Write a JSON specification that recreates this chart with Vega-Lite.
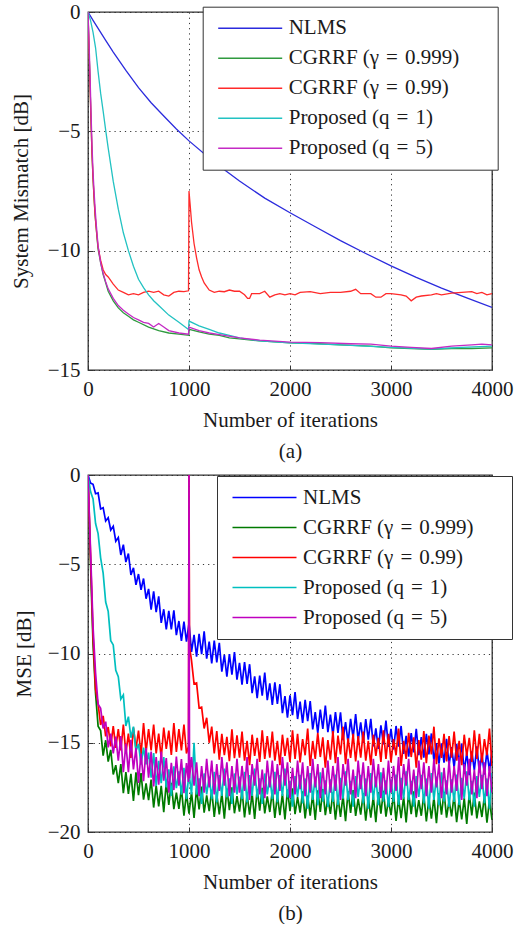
{
"$schema":"https://vega.github.io/schema/vega-lite/v6.json",
"background":"white",
"padding":{"left":9,"top":0,"right":0,"bottom":0},
"spacing":1,
"config":{
"font":"Liberation Serif",
"view":{"stroke":"#333","strokeWidth":1.3},
"axis":{"labelFont":"Liberation Serif","labelFontSize":21,"labelColor":"#1a1a1a","titleFont":"Liberation Serif","titleFontSize":21,"titleFontWeight":"normal","titleColor":"#1a1a1a","domain":false,"tickColor":"#333","tickSize":-5,"labelPadding":13,"grid":true,"gridColor":"#222","gridDash":[1.2,4],"gridOpacity":0.9,"labelFlush":false,"labelOverlap":false,"format":"d"},
"axisX":{"titlePadding":10,"titleLineHeight":31},
"legend":{"orient":"none","symbolType":"M-4,0H4","symbolSize":256,"symbolOffset":26,"symbolStrokeWidth":1.5,"labelFont":"Liberation Serif","labelFontSize":21,"labelColor":"#1a1a1a","labelLimit":500,"strokeColor":"#333","fillColor":"white","padding":11,"rowPadding":8,"labelOffset":28,"titleOrient":"right","titlePadding":28,"titleFontSize":21}
},
"datasets":{
"top":[
{"s":"N","x":0,"y":0},{"s":"N","x":50,"y":-0.35},{"s":"N","x":100,"y":-0.69},{"s":"N","x":175,"y":-1.19},{"s":"N","x":250,"y":-1.68},{"s":"N","x":375,"y":-2.45},{"s":"N","x":500,"y":-3.17},{"s":"N","x":625,"y":-3.8},{"s":"N","x":750,"y":-4.36},{"s":"N","x":875,"y":-4.9},{"s":"N","x":1000,"y":-5.4},{"s":"N","x":1250,"y":-6.3},{"s":"N","x":1500,"y":-7.08},{"s":"N","x":1750,"y":-7.8},{"s":"N","x":2000,"y":-8.41},{"s":"N","x":2250,"y":-9.0},{"s":"N","x":2500,"y":-9.58},{"s":"N","x":2750,"y":-10.12},{"s":"N","x":3000,"y":-10.64},{"s":"N","x":3250,"y":-11.12},{"s":"N","x":3500,"y":-11.57},{"s":"N","x":3750,"y":-11.98},{"s":"N","x":4000,"y":-12.38},
{"s":"G","x":0,"y":0},{"s":"G","x":10,"y":-1.5},{"s":"G","x":20,"y":-3},{"s":"G","x":30,"y":-4.6},{"s":"G","x":40,"y":-6},{"s":"G","x":50,"y":-7},{"s":"G","x":60,"y":-7.8},{"s":"G","x":70,"y":-8.5},{"s":"G","x":80,"y":-9.0},{"s":"G","x":90,"y":-9.5},{"s":"G","x":100,"y":-9.95},{"s":"G","x":125,"y":-10.5},{"s":"G","x":150,"y":-11.0},{"s":"G","x":175,"y":-11.35},{"s":"G","x":200,"y":-11.7},{"s":"G","x":250,"y":-12.1},{"s":"G","x":300,"y":-12.4},{"s":"G","x":350,"y":-12.6},{"s":"G","x":400,"y":-12.75},{"s":"G","x":450,"y":-12.9},{"s":"G","x":500,"y":-13.0},{"s":"G","x":600,"y":-13.2},{"s":"G","x":700,"y":-13.35},{"s":"G","x":800,"y":-13.45},{"s":"G","x":900,"y":-13.5},{"s":"G","x":998,"y":-13.55},{"s":"G","x":1002,"y":-13.3},{"s":"G","x":1100,"y":-13.4},{"s":"G","x":1200,"y":-13.5},{"s":"G","x":1300,"y":-13.55},{"s":"G","x":1400,"y":-13.65},{"s":"G","x":1500,"y":-13.7},{"s":"G","x":1700,"y":-13.78},{"s":"G","x":2000,"y":-13.86},{"s":"G","x":2200,"y":-13.88},{"s":"G","x":2500,"y":-13.95},{"s":"G","x":2800,"y":-14.0},{"s":"G","x":3000,"y":-14.07},{"s":"G","x":3200,"y":-14.1},{"s":"G","x":3400,"y":-14.13},{"s":"G","x":3600,"y":-14.1},{"s":"G","x":3800,"y":-14.1},{"s":"G","x":4000,"y":-14.07},
{"s":"R","x":0,"y":0},{"s":"R","x":10,"y":-1.5},{"s":"R","x":20,"y":-3},{"s":"R","x":30,"y":-4.6},{"s":"R","x":40,"y":-6},{"s":"R","x":50,"y":-7},{"s":"R","x":60,"y":-7.8},{"s":"R","x":70,"y":-8.5},{"s":"R","x":80,"y":-9.0},{"s":"R","x":90,"y":-9.45},{"s":"R","x":100,"y":-9.85},{"s":"R","x":125,"y":-10.4},{"s":"R","x":150,"y":-10.8},{"s":"R","x":175,"y":-11.0},{"s":"R","x":200,"y":-11.1},{"s":"R","x":250,"y":-11.4},{"s":"R","x":300,"y":-11.65},{"s":"R","x":350,"y":-11.75},{"s":"R","x":400,"y":-11.85},{"s":"R","x":450,"y":-11.8},{"s":"R","x":500,"y":-11.85},{"s":"R","x":550,"y":-11.75},{"s":"R","x":600,"y":-11.7},{"s":"R","x":650,"y":-11.75},{"s":"R","x":700,"y":-11.7},{"s":"R","x":750,"y":-11.85},{"s":"R","x":800,"y":-11.9},{"s":"R","x":850,"y":-11.75},{"s":"R","x":900,"y":-11.7},{"s":"R","x":950,"y":-11.72},{"s":"R","x":995,"y":-11.68},{"s":"R","x":1000,"y":-7.5},{"s":"R","x":1010,"y":-8.0},{"s":"R","x":1025,"y":-8.8},{"s":"R","x":1050,"y":-9.7},{"s":"R","x":1075,"y":-10.3},{"s":"R","x":1100,"y":-10.8},{"s":"R","x":1125,"y":-11.1},{"s":"R","x":1150,"y":-11.35},{"s":"R","x":1200,"y":-11.65},{"s":"R","x":1250,"y":-11.75},{"s":"R","x":1300,"y":-11.7},{"s":"R","x":1350,"y":-11.72},{"s":"R","x":1400,"y":-11.65},{"s":"R","x":1450,"y":-11.7},{"s":"R","x":1500,"y":-11.7},{"s":"R","x":1550,"y":-11.85},{"s":"R","x":1580,"y":-12.0},{"s":"R","x":1600,"y":-12.0},{"s":"R","x":1620,"y":-11.8},{"s":"R","x":1700,"y":-11.8},{"s":"R","x":1750,"y":-11.7},{"s":"R","x":1800,"y":-11.95},{"s":"R","x":1850,"y":-11.85},{"s":"R","x":1900,"y":-11.8},{"s":"R","x":1950,"y":-11.85},{"s":"R","x":2000,"y":-11.8},{"s":"R","x":2050,"y":-11.85},{"s":"R","x":2100,"y":-11.75},{"s":"R","x":2200,"y":-11.72},{"s":"R","x":2300,"y":-11.8},{"s":"R","x":2400,"y":-11.75},{"s":"R","x":2500,"y":-11.75},{"s":"R","x":2600,"y":-11.7},{"s":"R","x":2650,"y":-11.62},{"s":"R","x":2700,"y":-11.8},{"s":"R","x":2800,"y":-11.8},{"s":"R","x":2850,"y":-11.95},{"s":"R","x":2900,"y":-11.95},{"s":"R","x":2950,"y":-11.8},{"s":"R","x":3000,"y":-11.8},{"s":"R","x":3100,"y":-11.85},{"s":"R","x":3150,"y":-11.9},{"s":"R","x":3200,"y":-12.1},{"s":"R","x":3250,"y":-11.95},{"s":"R","x":3300,"y":-11.9},{"s":"R","x":3400,"y":-11.85},{"s":"R","x":3450,"y":-11.8},{"s":"R","x":3500,"y":-11.85},{"s":"R","x":3600,"y":-11.78},{"s":"R","x":3700,"y":-11.75},{"s":"R","x":3800,"y":-11.72},{"s":"R","x":3850,"y":-11.8},{"s":"R","x":3900,"y":-11.75},{"s":"R","x":3950,"y":-11.85},{"s":"R","x":4000,"y":-11.8},
{"s":"C","x":0,"y":0},{"s":"C","x":25,"y":-0.35},{"s":"C","x":50,"y":-0.85},{"s":"C","x":75,"y":-1.5},{"s":"C","x":100,"y":-2.5},{"s":"C","x":125,"y":-3.4},{"s":"C","x":150,"y":-4.15},{"s":"C","x":175,"y":-4.95},{"s":"C","x":200,"y":-5.7},{"s":"C","x":250,"y":-7.1},{"s":"C","x":300,"y":-8.26},{"s":"C","x":350,"y":-9.25},{"s":"C","x":400,"y":-10.0},{"s":"C","x":450,"y":-10.65},{"s":"C","x":500,"y":-11.2},{"s":"C","x":550,"y":-11.55},{"s":"C","x":600,"y":-11.85},{"s":"C","x":650,"y":-12.1},{"s":"C","x":700,"y":-12.3},{"s":"C","x":800,"y":-12.7},{"s":"C","x":900,"y":-13.0},{"s":"C","x":995,"y":-13.3},{"s":"C","x":1000,"y":-12.95},{"s":"C","x":1100,"y":-13.15},{"s":"C","x":1200,"y":-13.3},{"s":"C","x":1300,"y":-13.45},{"s":"C","x":1400,"y":-13.55},{"s":"C","x":1500,"y":-13.65},{"s":"C","x":1700,"y":-13.78},{"s":"C","x":2000,"y":-13.86},{"s":"C","x":2500,"y":-13.95},{"s":"C","x":3000,"y":-14.05},{"s":"C","x":3400,"y":-14.12},{"s":"C","x":3700,"y":-14.05},{"s":"C","x":4000,"y":-14.0},
{"s":"M","x":0,"y":0},{"s":"M","x":10,"y":-1.2},{"s":"M","x":20,"y":-2.6},{"s":"M","x":30,"y":-4.2},{"s":"M","x":40,"y":-5.6},{"s":"M","x":50,"y":-6.7},{"s":"M","x":60,"y":-7.5},{"s":"M","x":70,"y":-8.2},{"s":"M","x":80,"y":-8.8},{"s":"M","x":90,"y":-9.3},{"s":"M","x":100,"y":-9.8},{"s":"M","x":125,"y":-10.5},{"s":"M","x":150,"y":-10.95},{"s":"M","x":175,"y":-11.3},{"s":"M","x":200,"y":-11.6},{"s":"M","x":250,"y":-12.0},{"s":"M","x":300,"y":-12.3},{"s":"M","x":350,"y":-12.5},{"s":"M","x":400,"y":-12.65},{"s":"M","x":450,"y":-12.8},{"s":"M","x":500,"y":-12.9},{"s":"M","x":550,"y":-13.0},{"s":"M","x":600,"y":-13.05},{"s":"M","x":650,"y":-13.2},{"s":"M","x":700,"y":-13.05},{"s":"M","x":750,"y":-13.2},{"s":"M","x":800,"y":-13.35},{"s":"M","x":900,"y":-13.45},{"s":"M","x":995,"y":-13.5},{"s":"M","x":1000,"y":-13.2},{"s":"M","x":1100,"y":-13.35},{"s":"M","x":1200,"y":-13.45},{"s":"M","x":1300,"y":-13.52},{"s":"M","x":1500,"y":-13.65},{"s":"M","x":1700,"y":-13.75},{"s":"M","x":2000,"y":-13.83},{"s":"M","x":2300,"y":-13.85},{"s":"M","x":2600,"y":-13.9},{"s":"M","x":2800,"y":-13.92},{"s":"M","x":3000,"y":-14.0},{"s":"M","x":3200,"y":-14.05},{"s":"M","x":3400,"y":-14.1},{"s":"M","x":3600,"y":-14.0},{"s":"M","x":3800,"y":-13.95},{"s":"M","x":3900,"y":-13.92},{"s":"M","x":4000,"y":-13.95}
],
"bot":[
{"s":"N","x":0,"y":0},{"s":"N","x":25,"y":-0.45},{"s":"N","x":50,"y":-0.52},{"s":"N","x":75,"y":-1.05},{"s":"N","x":100,"y":-1.0},{"s":"N","x":125,"y":-1.9},{"s":"N","x":150,"y":-1.83},{"s":"N","x":175,"y":-2.58},{"s":"N","x":200,"y":-2.39},{"s":"N","x":225,"y":-3.08},{"s":"N","x":250,"y":-2.87},{"s":"N","x":275,"y":-3.71},{"s":"N","x":300,"y":-3.5},{"s":"N","x":325,"y":-4.48},{"s":"N","x":350,"y":-3.9},{"s":"N","x":375,"y":-4.88},{"s":"N","x":400,"y":-4.4},{"s":"N","x":425,"y":-5.6},{"s":"N","x":450,"y":-5.2},{"s":"N","x":475,"y":-6.15},{"s":"N","x":500,"y":-5.55},{"s":"N","x":525,"y":-6.43},{"s":"N","x":550,"y":-5.8},{"s":"N","x":575,"y":-6.93},{"s":"N","x":600,"y":-6.38},{"s":"N","x":625,"y":-7.54},{"s":"N","x":650,"y":-6.52},{"s":"N","x":675,"y":-7.68},{"s":"N","x":700,"y":-6.8},{"s":"N","x":725,"y":-8.28},{"s":"N","x":750,"y":-7.52},{"s":"N","x":775,"y":-8.65},{"s":"N","x":800,"y":-7.61},{"s":"N","x":825,"y":-8.65},{"s":"N","x":850,"y":-7.58},{"s":"N","x":875,"y":-8.97},{"s":"N","x":900,"y":-8.18},{"s":"N","x":925,"y":-9.29},{"s":"N","x":950,"y":-8.22},{"s":"N","x":975,"y":-9.33},{"s":"N","x":1000,"y":-8.3},{"s":"N","x":1025,"y":-9.91},{"s":"N","x":1050,"y":-8.96},{"s":"N","x":1075,"y":-10.17},{"s":"N","x":1100,"y":-8.9},{"s":"N","x":1125,"y":-10.03},{"s":"N","x":1150,"y":-8.76},{"s":"N","x":1175,"y":-10.29},{"s":"N","x":1200,"y":-9.34},{"s":"N","x":1225,"y":-10.55},{"s":"N","x":1250,"y":-9.28},{"s":"N","x":1275,"y":-10.5},{"s":"N","x":1300,"y":-9.4},{"s":"N","x":1325,"y":-11.02},{"s":"N","x":1350,"y":-10.08},{"s":"N","x":1375,"y":-11.3},{"s":"N","x":1400,"y":-10.04},{"s":"N","x":1425,"y":-11.18},{"s":"N","x":1450,"y":-9.92},{"s":"N","x":1475,"y":-11.46},{"s":"N","x":1500,"y":-10.52},{"s":"N","x":1525,"y":-11.74},{"s":"N","x":1550,"y":-10.48},{"s":"N","x":1575,"y":-11.7},{"s":"N","x":1600,"y":-10.6},{"s":"N","x":1625,"y":-12.22},{"s":"N","x":1650,"y":-11.28},{"s":"N","x":1675,"y":-12.5},{"s":"N","x":1700,"y":-11.24},{"s":"N","x":1725,"y":-12.36},{"s":"N","x":1750,"y":-11.07},{"s":"N","x":1775,"y":-12.61},{"s":"N","x":1800,"y":-11.67},{"s":"N","x":1825,"y":-12.88},{"s":"N","x":1850,"y":-11.61},{"s":"N","x":1875,"y":-12.83},{"s":"N","x":1900,"y":-11.72},{"s":"N","x":1925,"y":-13.34},{"s":"N","x":1950,"y":-12.39},{"s":"N","x":1975,"y":-13.6},{"s":"N","x":2000,"y":-12.34},{"s":"N","x":2025,"y":-13.45},{"s":"N","x":2050,"y":-12.16},{"s":"N","x":2075,"y":-13.67},{"s":"N","x":2100,"y":-12.7},{"s":"N","x":2125,"y":-13.89},{"s":"N","x":2150,"y":-12.6},{"s":"N","x":2175,"y":-13.79},{"s":"N","x":2200,"y":-12.66},{"s":"N","x":2225,"y":-14.25},{"s":"N","x":2250,"y":-13.28},{"s":"N","x":2275,"y":-14.45},{"s":"N","x":2300,"y":-13.14},{"s":"N","x":2325,"y":-14.23},{"s":"N","x":2350,"y":-12.92},{"s":"N","x":2375,"y":-14.41},{"s":"N","x":2400,"y":-13.42},{"s":"N","x":2425,"y":-14.59},{"s":"N","x":2450,"y":-13.28},{"s":"N","x":2475,"y":-14.45},{"s":"N","x":2500,"y":-13.3},{"s":"N","x":2525,"y":-14.85},{"s":"N","x":2550,"y":-13.84},{"s":"N","x":2575,"y":-14.99},{"s":"N","x":2600,"y":-13.66},{"s":"N","x":2625,"y":-14.73},{"s":"N","x":2650,"y":-13.4},{"s":"N","x":2675,"y":-14.87},{"s":"N","x":2700,"y":-13.86},{"s":"N","x":2725,"y":-15.01},{"s":"N","x":2750,"y":-13.68},{"s":"N","x":2775,"y":-14.83},{"s":"N","x":2800,"y":-13.66},{"s":"N","x":2825,"y":-15.21},{"s":"N","x":2850,"y":-14.2},{"s":"N","x":2875,"y":-15.35},{"s":"N","x":2900,"y":-14.02},{"s":"N","x":2925,"y":-15.09},{"s":"N","x":2950,"y":-13.76},{"s":"N","x":2975,"y":-15.23},{"s":"N","x":3000,"y":-14.22},{"s":"N","x":3025,"y":-15.38},{"s":"N","x":3050,"y":-14.06},{"s":"N","x":3075,"y":-15.22},{"s":"N","x":3100,"y":-14.06},{"s":"N","x":3125,"y":-15.62},{"s":"N","x":3150,"y":-14.62},{"s":"N","x":3175,"y":-15.78},{"s":"N","x":3200,"y":-14.46},{"s":"N","x":3225,"y":-15.54},{"s":"N","x":3250,"y":-14.22},{"s":"N","x":3275,"y":-15.69},{"s":"N","x":3300,"y":-14.68},{"s":"N","x":3325,"y":-15.83},{"s":"N","x":3350,"y":-14.5},{"s":"N","x":3375,"y":-15.65},{"s":"N","x":3400,"y":-14.48},{"s":"N","x":3425,"y":-16.03},{"s":"N","x":3450,"y":-15.02},{"s":"N","x":3475,"y":-16.17},{"s":"N","x":3500,"y":-15.04},{"s":"N","x":3525,"y":-16.11},{"s":"N","x":3550,"y":-14.78},{"s":"N","x":3575,"y":-16.25},{"s":"N","x":3600,"y":-15.24},{"s":"N","x":3625,"y":-16.39},{"s":"N","x":3650,"y":-15.06},{"s":"N","x":3675,"y":-16.21},{"s":"N","x":3700,"y":-15.04},{"s":"N","x":3725,"y":-16.59},{"s":"N","x":3750,"y":-15.58},{"s":"N","x":3775,"y":-16.82},{"s":"N","x":3800,"y":-15.48},{"s":"N","x":3825,"y":-16.54},{"s":"N","x":3850,"y":-15.2},{"s":"N","x":3875,"y":-16.66},{"s":"N","x":3900,"y":-15.64},{"s":"N","x":3925,"y":-16.78},{"s":"N","x":3950,"y":-15.44},{"s":"N","x":3975,"y":-16.58},{"s":"N","x":4000,"y":-15.4},
{"s":"G","x":0,"y":0},{"s":"G","x":25,"y":-5.0},{"s":"G","x":50,"y":-9.5},{"s":"G","x":75,"y":-12.25},{"s":"G","x":100,"y":-14.07},{"s":"G","x":125,"y":-14.32},{"s":"G","x":150,"y":-15.72},{"s":"G","x":175,"y":-14.86},{"s":"G","x":200,"y":-16.06},{"s":"G","x":225,"y":-15.4},{"s":"G","x":250,"y":-16.78},{"s":"G","x":275,"y":-16.26},{"s":"G","x":300,"y":-17.26},{"s":"G","x":325,"y":-16.19},{"s":"G","x":350,"y":-17.83},{"s":"G","x":375,"y":-16.65},{"s":"G","x":400,"y":-17.87},{"s":"G","x":425,"y":-16.74},{"s":"G","x":450,"y":-18.26},{"s":"G","x":475,"y":-16.66},{"s":"G","x":500,"y":-17.93},{"s":"G","x":525,"y":-16.7},{"s":"G","x":550,"y":-18.19},{"s":"G","x":575,"y":-17.28},{"s":"G","x":600,"y":-18.21},{"s":"G","x":625,"y":-17.06},{"s":"G","x":650,"y":-18.63},{"s":"G","x":675,"y":-17.4},{"s":"G","x":700,"y":-18.57},{"s":"G","x":725,"y":-17.41},{"s":"G","x":750,"y":-18.89},{"s":"G","x":775,"y":-17.24},{"s":"G","x":800,"y":-18.48},{"s":"G","x":825,"y":-17.24},{"s":"G","x":850,"y":-18.72},{"s":"G","x":875,"y":-17.79},{"s":"G","x":900,"y":-18.71},{"s":"G","x":925,"y":-17.54},{"s":"G","x":950,"y":-19.08},{"s":"G","x":975,"y":-17.82},{"s":"G","x":1000,"y":-18.97},{"s":"G","x":1025,"y":-17.77},{"s":"G","x":1050,"y":-19.21},{"s":"G","x":1075,"y":-17.54},{"s":"G","x":1100,"y":-18.74},{"s":"G","x":1125,"y":-17.46},{"s":"G","x":1150,"y":-18.91},{"s":"G","x":1175,"y":-17.95},{"s":"G","x":1200,"y":-18.83},{"s":"G","x":1225,"y":-17.64},{"s":"G","x":1250,"y":-19.16},{"s":"G","x":1275,"y":-17.88},{"s":"G","x":1300,"y":-19.01},{"s":"G","x":1325,"y":-17.82},{"s":"G","x":1350,"y":-19.25},{"s":"G","x":1375,"y":-17.57},{"s":"G","x":1400,"y":-18.78},{"s":"G","x":1425,"y":-17.5},{"s":"G","x":1450,"y":-18.95},{"s":"G","x":1475,"y":-17.99},{"s":"G","x":1500,"y":-18.86},{"s":"G","x":1525,"y":-17.66},{"s":"G","x":1550,"y":-19.18},{"s":"G","x":1575,"y":-17.9},{"s":"G","x":1600,"y":-19.03},{"s":"G","x":1625,"y":-17.83},{"s":"G","x":1650,"y":-19.27},{"s":"G","x":1675,"y":-17.59},{"s":"G","x":1700,"y":-18.8},{"s":"G","x":1725,"y":-17.52},{"s":"G","x":1750,"y":-18.96},{"s":"G","x":1775,"y":-18.0},{"s":"G","x":1800,"y":-18.88},{"s":"G","x":1825,"y":-17.68},{"s":"G","x":1850,"y":-19.21},{"s":"G","x":1875,"y":-17.93},{"s":"G","x":1900,"y":-19.05},{"s":"G","x":1925,"y":-17.86},{"s":"G","x":1950,"y":-19.3},{"s":"G","x":1975,"y":-17.62},{"s":"G","x":2000,"y":-18.83},{"s":"G","x":2025,"y":-17.55},{"s":"G","x":2050,"y":-19.0},{"s":"G","x":2075,"y":-18.04},{"s":"G","x":2100,"y":-18.92},{"s":"G","x":2125,"y":-17.72},{"s":"G","x":2150,"y":-19.24},{"s":"G","x":2175,"y":-17.96},{"s":"G","x":2200,"y":-19.08},{"s":"G","x":2225,"y":-17.88},{"s":"G","x":2250,"y":-19.33},{"s":"G","x":2275,"y":-17.66},{"s":"G","x":2300,"y":-18.87},{"s":"G","x":2325,"y":-17.6},{"s":"G","x":2350,"y":-19.05},{"s":"G","x":2375,"y":-18.09},{"s":"G","x":2400,"y":-18.98},{"s":"G","x":2425,"y":-17.79},{"s":"G","x":2450,"y":-19.31},{"s":"G","x":2475,"y":-18.03},{"s":"G","x":2500,"y":-19.15},{"s":"G","x":2525,"y":-17.95},{"s":"G","x":2550,"y":-19.4},{"s":"G","x":2575,"y":-17.72},{"s":"G","x":2600,"y":-18.93},{"s":"G","x":2625,"y":-17.65},{"s":"G","x":2650,"y":-19.1},{"s":"G","x":2675,"y":-18.14},{"s":"G","x":2700,"y":-19.03},{"s":"G","x":2725,"y":-17.84},{"s":"G","x":2750,"y":-19.36},{"s":"G","x":2775,"y":-18.08},{"s":"G","x":2800,"y":-19.2},{"s":"G","x":2825,"y":-18.0},{"s":"G","x":2850,"y":-19.45},{"s":"G","x":2875,"y":-17.77},{"s":"G","x":2900,"y":-18.97},{"s":"G","x":2925,"y":-17.69},{"s":"G","x":2950,"y":-19.14},{"s":"G","x":2975,"y":-18.18},{"s":"G","x":3000,"y":-19.06},{"s":"G","x":3025,"y":-17.86},{"s":"G","x":3050,"y":-19.38},{"s":"G","x":3075,"y":-18.1},{"s":"G","x":3100,"y":-19.22},{"s":"G","x":3125,"y":-18.03},{"s":"G","x":3150,"y":-19.47},{"s":"G","x":3175,"y":-17.79},{"s":"G","x":3200,"y":-19.0},{"s":"G","x":3225,"y":-17.72},{"s":"G","x":3250,"y":-19.17},{"s":"G","x":3275,"y":-18.21},{"s":"G","x":3300,"y":-19.09},{"s":"G","x":3325,"y":-17.89},{"s":"G","x":3350,"y":-19.41},{"s":"G","x":3375,"y":-18.13},{"s":"G","x":3400,"y":-19.25},{"s":"G","x":3425,"y":-18.06},{"s":"G","x":3450,"y":-19.5},{"s":"G","x":3475,"y":-17.82},{"s":"G","x":3500,"y":-19.03},{"s":"G","x":3525,"y":-17.75},{"s":"G","x":3550,"y":-19.2},{"s":"G","x":3575,"y":-18.24},{"s":"G","x":3600,"y":-19.12},{"s":"G","x":3625,"y":-17.92},{"s":"G","x":3650,"y":-19.45},{"s":"G","x":3675,"y":-18.17},{"s":"G","x":3700,"y":-19.3},{"s":"G","x":3725,"y":-18.1},{"s":"G","x":3750,"y":-19.55},{"s":"G","x":3775,"y":-17.86},{"s":"G","x":3800,"y":-19.07},{"s":"G","x":3825,"y":-17.79},{"s":"G","x":3850,"y":-19.24},{"s":"G","x":3875,"y":-18.28},{"s":"G","x":3900,"y":-19.16},{"s":"G","x":3925,"y":-17.96},{"s":"G","x":3950,"y":-19.48},{"s":"G","x":3975,"y":-18.2},{"s":"G","x":4000,"y":-19.32},
{"s":"R","x":0,"y":0},{"s":"R","x":25,"y":-4.5},{"s":"R","x":50,"y":-9.0},{"s":"R","x":75,"y":-12.01},{"s":"R","x":100,"y":-12.82},{"s":"R","x":125,"y":-14.0},{"s":"R","x":150,"y":-13.5},{"s":"R","x":175,"y":-14.64},{"s":"R","x":200,"y":-14.12},{"s":"R","x":225,"y":-15.2},{"s":"R","x":250,"y":-14.07},{"s":"R","x":275,"y":-15.29},{"s":"R","x":300,"y":-14.23},{"s":"R","x":325,"y":-15.43},{"s":"R","x":350,"y":-13.98},{"s":"R","x":375,"y":-15.6},{"s":"R","x":400,"y":-14.49},{"s":"R","x":425,"y":-15.85},{"s":"R","x":450,"y":-14.15},{"s":"R","x":475,"y":-15.34},{"s":"R","x":500,"y":-14.32},{"s":"R","x":525,"y":-15.68},{"s":"R","x":550,"y":-13.9},{"s":"R","x":575,"y":-15.51},{"s":"R","x":600,"y":-14.23},{"s":"R","x":625,"y":-15.43},{"s":"R","x":650,"y":-13.98},{"s":"R","x":675,"y":-15.6},{"s":"R","x":700,"y":-14.49},{"s":"R","x":725,"y":-15.85},{"s":"R","x":750,"y":-14.15},{"s":"R","x":775,"y":-15.34},{"s":"R","x":800,"y":-14.32},{"s":"R","x":825,"y":-15.68},{"s":"R","x":850,"y":-13.9},{"s":"R","x":875,"y":-15.51},{"s":"R","x":900,"y":-14.23},{"s":"R","x":925,"y":-15.43},{"s":"R","x":950,"y":-13.98},{"s":"R","x":975,"y":-15.6},{"s":"R","x":995,"y":-15.2},{"s":"R","x":1000,"y":0},{"s":"R","x":1005,"y":-9.6},{"s":"R","x":1025,"y":-10.4},{"s":"R","x":1050,"y":-11.7},{"s":"R","x":1075,"y":-11.65},{"s":"R","x":1100,"y":-13.05},{"s":"R","x":1125,"y":-13.0},{"s":"R","x":1150,"y":-14.2},{"s":"R","x":1175,"y":-13.6},{"s":"R","x":1200,"y":-15.0},{"s":"R","x":1225,"y":-14.1},{"s":"R","x":1250,"y":-15.6},{"s":"R","x":1275,"y":-14.35},{"s":"R","x":1300,"y":-15.95},{"s":"R","x":1325,"y":-14.5},{"s":"R","x":1350,"y":-15.69},{"s":"R","x":1375,"y":-14.67},{"s":"R","x":1400,"y":-16.03},{"s":"R","x":1425,"y":-14.25},{"s":"R","x":1450,"y":-15.86},{"s":"R","x":1475,"y":-14.58},{"s":"R","x":1500,"y":-15.83},{"s":"R","x":1525,"y":-14.38},{"s":"R","x":1550,"y":-16.0},{"s":"R","x":1575,"y":-14.89},{"s":"R","x":1600,"y":-16.25},{"s":"R","x":1625,"y":-14.55},{"s":"R","x":1650,"y":-15.74},{"s":"R","x":1675,"y":-14.72},{"s":"R","x":1700,"y":-16.08},{"s":"R","x":1725,"y":-14.3},{"s":"R","x":1750,"y":-15.91},{"s":"R","x":1775,"y":-14.63},{"s":"R","x":1800,"y":-15.83},{"s":"R","x":1825,"y":-14.38},{"s":"R","x":1850,"y":-16.0},{"s":"R","x":1875,"y":-14.89},{"s":"R","x":1900,"y":-16.25},{"s":"R","x":1925,"y":-14.55},{"s":"R","x":1950,"y":-15.74},{"s":"R","x":1975,"y":-14.72},{"s":"R","x":2000,"y":-16.08},{"s":"R","x":2025,"y":-14.3},{"s":"R","x":2050,"y":-15.91},{"s":"R","x":2075,"y":-14.5},{"s":"R","x":2100,"y":-16.1},{"s":"R","x":2125,"y":-14.8},{"s":"R","x":2150,"y":-15.7},{"s":"R","x":2175,"y":-14.2},{"s":"R","x":2200,"y":-16.3},{"s":"R","x":2225,"y":-14.9},{"s":"R","x":2250,"y":-15.9},{"s":"R","x":2275,"y":-14.45},{"s":"R","x":2300,"y":-15.8},{"s":"R","x":2325,"y":-14.7},{"s":"R","x":2350,"y":-16.4},{"s":"R","x":2375,"y":-14.85},{"s":"R","x":2400,"y":-15.95},{"s":"R","x":2425,"y":-14.35},{"s":"R","x":2450,"y":-16.15},{"s":"R","x":2475,"y":-14.6},{"s":"R","x":2500,"y":-15.65},{"s":"R","x":2525,"y":-14.1},{"s":"R","x":2550,"y":-16.2},{"s":"R","x":2575,"y":-14.75},{"s":"R","x":2600,"y":-15.85},{"s":"R","x":2625,"y":-14.5},{"s":"R","x":2650,"y":-16.05},{"s":"R","x":2675,"y":-14.63},{"s":"R","x":2700,"y":-15.83},{"s":"R","x":2725,"y":-14.38},{"s":"R","x":2750,"y":-16.0},{"s":"R","x":2775,"y":-14.89},{"s":"R","x":2800,"y":-16.25},{"s":"R","x":2825,"y":-14.55},{"s":"R","x":2850,"y":-15.74},{"s":"R","x":2875,"y":-14.72},{"s":"R","x":2900,"y":-16.08},{"s":"R","x":2925,"y":-14.3},{"s":"R","x":2950,"y":-15.91},{"s":"R","x":2975,"y":-14.5},{"s":"R","x":3000,"y":-16.1},{"s":"R","x":3025,"y":-14.8},{"s":"R","x":3050,"y":-15.7},{"s":"R","x":3075,"y":-14.2},{"s":"R","x":3100,"y":-16.3},{"s":"R","x":3125,"y":-14.9},{"s":"R","x":3150,"y":-15.9},{"s":"R","x":3175,"y":-14.45},{"s":"R","x":3200,"y":-15.8},{"s":"R","x":3225,"y":-14.7},{"s":"R","x":3250,"y":-16.4},{"s":"R","x":3275,"y":-14.85},{"s":"R","x":3300,"y":-15.95},{"s":"R","x":3325,"y":-14.35},{"s":"R","x":3350,"y":-16.15},{"s":"R","x":3375,"y":-14.6},{"s":"R","x":3400,"y":-15.65},{"s":"R","x":3425,"y":-14.1},{"s":"R","x":3450,"y":-16.2},{"s":"R","x":3475,"y":-14.75},{"s":"R","x":3500,"y":-15.85},{"s":"R","x":3525,"y":-14.5},{"s":"R","x":3550,"y":-16.05},{"s":"R","x":3575,"y":-14.63},{"s":"R","x":3600,"y":-15.83},{"s":"R","x":3625,"y":-14.38},{"s":"R","x":3650,"y":-16.0},{"s":"R","x":3675,"y":-14.89},{"s":"R","x":3700,"y":-16.25},{"s":"R","x":3725,"y":-14.55},{"s":"R","x":3750,"y":-15.74},{"s":"R","x":3775,"y":-14.72},{"s":"R","x":3800,"y":-16.08},{"s":"R","x":3825,"y":-14.3},{"s":"R","x":3850,"y":-15.91},{"s":"R","x":3875,"y":-14.5},{"s":"R","x":3900,"y":-16.1},{"s":"R","x":3925,"y":-14.8},{"s":"R","x":3950,"y":-15.7},{"s":"R","x":3975,"y":-14.2},{"s":"R","x":4000,"y":-16.3},
{"s":"C","x":0,"y":0},{"s":"C","x":25,"y":-0.93},{"s":"C","x":50,"y":-1.34},{"s":"C","x":75,"y":-2.72},{"s":"C","x":100,"y":-3.28},{"s":"C","x":125,"y":-4.64},{"s":"C","x":150,"y":-5.5},{"s":"C","x":175,"y":-7.12},{"s":"C","x":200,"y":-7.64},{"s":"C","x":225,"y":-9.28},{"s":"C","x":250,"y":-9.52},{"s":"C","x":275,"y":-10.94},{"s":"C","x":300,"y":-11.3},{"s":"C","x":325,"y":-12.56},{"s":"C","x":350,"y":-12.32},{"s":"C","x":375,"y":-14.06},{"s":"C","x":400,"y":-13.54},{"s":"C","x":425,"y":-14.72},{"s":"C","x":450,"y":-14.1},{"s":"C","x":475,"y":-15.48},{"s":"C","x":500,"y":-15.06},{"s":"C","x":525,"y":-16.22},{"s":"C","x":550,"y":-15.28},{"s":"C","x":575,"y":-16.21},{"s":"C","x":600,"y":-15.55},{"s":"C","x":625,"y":-16.96},{"s":"C","x":650,"y":-15.58},{"s":"C","x":675,"y":-17.42},{"s":"C","x":700,"y":-16.01},{"s":"C","x":725,"y":-17.26},{"s":"C","x":750,"y":-15.8},{"s":"C","x":775,"y":-17.5},{"s":"C","x":800,"y":-16.49},{"s":"C","x":825,"y":-17.98},{"s":"C","x":850,"y":-16.32},{"s":"C","x":875,"y":-17.54},{"s":"C","x":900,"y":-16.6},{"s":"C","x":925,"y":-17.91},{"s":"C","x":950,"y":-16.41},{"s":"C","x":975,"y":-18.16},{"s":"C","x":1000,"y":-16.66},{"s":"C","x":1025,"y":-17.9},{"s":"C","x":1050,"y":-15.0},{"s":"C","x":1075,"y":-17.9},{"s":"C","x":1100,"y":-16.99},{"s":"C","x":1125,"y":-18.43},{"s":"C","x":1150,"y":-16.72},{"s":"C","x":1175,"y":-17.89},{"s":"C","x":1200,"y":-16.9},{"s":"C","x":1225,"y":-18.16},{"s":"C","x":1250,"y":-16.63},{"s":"C","x":1275,"y":-18.34},{"s":"C","x":1300,"y":-16.81},{"s":"C","x":1325,"y":-17.98},{"s":"C","x":1350,"y":-16.45},{"s":"C","x":1375,"y":-18.07},{"s":"C","x":1400,"y":-16.99},{"s":"C","x":1425,"y":-18.43},{"s":"C","x":1450,"y":-16.72},{"s":"C","x":1475,"y":-17.89},{"s":"C","x":1500,"y":-16.9},{"s":"C","x":1525,"y":-18.16},{"s":"C","x":1550,"y":-16.63},{"s":"C","x":1575,"y":-18.34},{"s":"C","x":1600,"y":-16.81},{"s":"C","x":1625,"y":-17.98},{"s":"C","x":1650,"y":-16.45},{"s":"C","x":1675,"y":-18.07},{"s":"C","x":1700,"y":-16.99},{"s":"C","x":1725,"y":-18.43},{"s":"C","x":1750,"y":-16.72},{"s":"C","x":1775,"y":-17.89},{"s":"C","x":1800,"y":-16.9},{"s":"C","x":1825,"y":-18.16},{"s":"C","x":1850,"y":-16.63},{"s":"C","x":1875,"y":-18.34},{"s":"C","x":1900,"y":-16.81},{"s":"C","x":1925,"y":-17.98},{"s":"C","x":1950,"y":-16.45},{"s":"C","x":1975,"y":-18.07},{"s":"C","x":2000,"y":-17.14},{"s":"C","x":2025,"y":-18.58},{"s":"C","x":2050,"y":-16.87},{"s":"C","x":2075,"y":-18.04},{"s":"C","x":2100,"y":-16.8},{"s":"C","x":2125,"y":-18.4},{"s":"C","x":2150,"y":-17.0},{"s":"C","x":2175,"y":-18.7},{"s":"C","x":2200,"y":-16.7},{"s":"C","x":2225,"y":-18.2},{"s":"C","x":2250,"y":-16.9},{"s":"C","x":2275,"y":-18.5},{"s":"C","x":2300,"y":-16.65},{"s":"C","x":2325,"y":-18.3},{"s":"C","x":2350,"y":-17.1},{"s":"C","x":2375,"y":-18.6},{"s":"C","x":2400,"y":-17.05},{"s":"C","x":2425,"y":-18.31},{"s":"C","x":2450,"y":-16.78},{"s":"C","x":2475,"y":-18.49},{"s":"C","x":2500,"y":-16.96},{"s":"C","x":2525,"y":-18.13},{"s":"C","x":2550,"y":-16.6},{"s":"C","x":2575,"y":-18.22},{"s":"C","x":2600,"y":-17.14},{"s":"C","x":2625,"y":-18.58},{"s":"C","x":2650,"y":-16.87},{"s":"C","x":2675,"y":-18.04},{"s":"C","x":2700,"y":-16.8},{"s":"C","x":2725,"y":-18.4},{"s":"C","x":2750,"y":-17.0},{"s":"C","x":2775,"y":-18.7},{"s":"C","x":2800,"y":-16.7},{"s":"C","x":2825,"y":-18.2},{"s":"C","x":2850,"y":-16.9},{"s":"C","x":2875,"y":-18.5},{"s":"C","x":2900,"y":-16.65},{"s":"C","x":2925,"y":-18.3},{"s":"C","x":2950,"y":-17.1},{"s":"C","x":2975,"y":-18.6},{"s":"C","x":3000,"y":-17.05},{"s":"C","x":3025,"y":-18.31},{"s":"C","x":3050,"y":-16.78},{"s":"C","x":3075,"y":-18.49},{"s":"C","x":3100,"y":-16.96},{"s":"C","x":3125,"y":-18.13},{"s":"C","x":3150,"y":-16.6},{"s":"C","x":3175,"y":-18.22},{"s":"C","x":3200,"y":-17.14},{"s":"C","x":3225,"y":-18.58},{"s":"C","x":3250,"y":-16.87},{"s":"C","x":3275,"y":-18.04},{"s":"C","x":3300,"y":-16.8},{"s":"C","x":3325,"y":-18.4},{"s":"C","x":3350,"y":-17.0},{"s":"C","x":3375,"y":-18.7},{"s":"C","x":3400,"y":-16.7},{"s":"C","x":3425,"y":-18.2},{"s":"C","x":3450,"y":-16.9},{"s":"C","x":3475,"y":-18.5},{"s":"C","x":3500,"y":-16.65},{"s":"C","x":3525,"y":-18.3},{"s":"C","x":3550,"y":-17.1},{"s":"C","x":3575,"y":-18.6},{"s":"C","x":3600,"y":-17.05},{"s":"C","x":3625,"y":-18.31},{"s":"C","x":3650,"y":-16.78},{"s":"C","x":3675,"y":-18.49},{"s":"C","x":3700,"y":-16.96},{"s":"C","x":3725,"y":-18.13},{"s":"C","x":3750,"y":-16.6},{"s":"C","x":3775,"y":-18.22},{"s":"C","x":3800,"y":-17.14},{"s":"C","x":3825,"y":-18.58},{"s":"C","x":3850,"y":-16.87},{"s":"C","x":3875,"y":-18.04},{"s":"C","x":3900,"y":-16.8},{"s":"C","x":3925,"y":-18.4},{"s":"C","x":3950,"y":-17.0},{"s":"C","x":3975,"y":-18.7},{"s":"C","x":4000,"y":-16.7},
{"s":"M","x":0,"y":0},{"s":"M","x":25,"y":-4.2},{"s":"M","x":50,"y":-8.5},{"s":"M","x":75,"y":-11.09},{"s":"M","x":100,"y":-12.84},{"s":"M","x":125,"y":-13.07},{"s":"M","x":150,"y":-14.2},{"s":"M","x":175,"y":-13.82},{"s":"M","x":200,"y":-15.26},{"s":"M","x":225,"y":-14.49},{"s":"M","x":250,"y":-15.59},{"s":"M","x":275,"y":-14.65},{"s":"M","x":300,"y":-16.0},{"s":"M","x":325,"y":-14.62},{"s":"M","x":350,"y":-16.65},{"s":"M","x":375,"y":-15.05},{"s":"M","x":400,"y":-16.65},{"s":"M","x":425,"y":-14.83},{"s":"M","x":450,"y":-16.5},{"s":"M","x":475,"y":-15.28},{"s":"M","x":500,"y":-17.25},{"s":"M","x":525,"y":-15.6},{"s":"M","x":550,"y":-17.15},{"s":"M","x":575,"y":-15.3},{"s":"M","x":600,"y":-16.95},{"s":"M","x":625,"y":-15.5},{"s":"M","x":650,"y":-17.45},{"s":"M","x":675,"y":-15.8},{"s":"M","x":700,"y":-17.35},{"s":"M","x":725,"y":-15.49},{"s":"M","x":750,"y":-17.13},{"s":"M","x":775,"y":-15.86},{"s":"M","x":800,"y":-17.8},{"s":"M","x":825,"y":-16.12},{"s":"M","x":850,"y":-17.65},{"s":"M","x":875,"y":-15.78},{"s":"M","x":900,"y":-17.4},{"s":"M","x":925,"y":-15.91},{"s":"M","x":950,"y":-17.83},{"s":"M","x":975,"y":-16.14},{"s":"M","x":995,"y":-17.2},{"s":"M","x":1000,"y":0},{"s":"M","x":1005,"y":-17.0},{"s":"M","x":1025,"y":-15.8},{"s":"M","x":1050,"y":-17.4},{"s":"M","x":1075,"y":-16.1},{"s":"M","x":1100,"y":-18.0},{"s":"M","x":1125,"y":-16.3},{"s":"M","x":1150,"y":-17.8},{"s":"M","x":1175,"y":-15.9},{"s":"M","x":1200,"y":-17.5},{"s":"M","x":1225,"y":-16.0},{"s":"M","x":1250,"y":-17.9},{"s":"M","x":1275,"y":-16.2},{"s":"M","x":1300,"y":-17.7},{"s":"M","x":1325,"y":-15.8},{"s":"M","x":1350,"y":-17.4},{"s":"M","x":1375,"y":-16.1},{"s":"M","x":1400,"y":-18.0},{"s":"M","x":1425,"y":-16.3},{"s":"M","x":1450,"y":-17.8},{"s":"M","x":1475,"y":-15.9},{"s":"M","x":1500,"y":-17.8},{"s":"M","x":1525,"y":-16.3},{"s":"M","x":1550,"y":-17.7},{"s":"M","x":1575,"y":-15.8},{"s":"M","x":1600,"y":-18.2},{"s":"M","x":1625,"y":-16.2},{"s":"M","x":1650,"y":-17.4},{"s":"M","x":1675,"y":-15.9},{"s":"M","x":1700,"y":-17.9},{"s":"M","x":1725,"y":-16.5},{"s":"M","x":1750,"y":-18.1},{"s":"M","x":1775,"y":-16.0},{"s":"M","x":1800,"y":-17.5},{"s":"M","x":1825,"y":-16.0},{"s":"M","x":1850,"y":-17.9},{"s":"M","x":1875,"y":-16.2},{"s":"M","x":1900,"y":-17.7},{"s":"M","x":1925,"y":-15.8},{"s":"M","x":1950,"y":-17.4},{"s":"M","x":1975,"y":-16.1},{"s":"M","x":2000,"y":-18.1},{"s":"M","x":2025,"y":-16.4},{"s":"M","x":2050,"y":-17.9},{"s":"M","x":2075,"y":-16.0},{"s":"M","x":2100,"y":-17.6},{"s":"M","x":2125,"y":-16.1},{"s":"M","x":2150,"y":-18.0},{"s":"M","x":2175,"y":-16.3},{"s":"M","x":2200,"y":-17.8},{"s":"M","x":2225,"y":-15.9},{"s":"M","x":2250,"y":-17.5},{"s":"M","x":2275,"y":-16.2},{"s":"M","x":2300,"y":-18.1},{"s":"M","x":2325,"y":-16.4},{"s":"M","x":2350,"y":-17.9},{"s":"M","x":2375,"y":-16.0},{"s":"M","x":2400,"y":-17.8},{"s":"M","x":2425,"y":-16.3},{"s":"M","x":2450,"y":-17.7},{"s":"M","x":2475,"y":-15.8},{"s":"M","x":2500,"y":-18.2},{"s":"M","x":2525,"y":-16.2},{"s":"M","x":2550,"y":-17.4},{"s":"M","x":2575,"y":-15.9},{"s":"M","x":2600,"y":-17.9},{"s":"M","x":2625,"y":-16.5},{"s":"M","x":2650,"y":-18.1},{"s":"M","x":2675,"y":-16.0},{"s":"M","x":2700,"y":-17.6},{"s":"M","x":2725,"y":-16.1},{"s":"M","x":2750,"y":-18.0},{"s":"M","x":2775,"y":-16.3},{"s":"M","x":2800,"y":-17.8},{"s":"M","x":2825,"y":-15.9},{"s":"M","x":2850,"y":-17.5},{"s":"M","x":2875,"y":-16.2},{"s":"M","x":2900,"y":-18.1},{"s":"M","x":2925,"y":-16.4},{"s":"M","x":2950,"y":-17.9},{"s":"M","x":2975,"y":-16.0},{"s":"M","x":3000,"y":-17.8},{"s":"M","x":3025,"y":-16.3},{"s":"M","x":3050,"y":-17.7},{"s":"M","x":3075,"y":-15.8},{"s":"M","x":3100,"y":-18.2},{"s":"M","x":3125,"y":-16.2},{"s":"M","x":3150,"y":-17.4},{"s":"M","x":3175,"y":-15.9},{"s":"M","x":3200,"y":-17.9},{"s":"M","x":3225,"y":-16.5},{"s":"M","x":3250,"y":-18.1},{"s":"M","x":3275,"y":-16.0},{"s":"M","x":3300,"y":-17.6},{"s":"M","x":3325,"y":-16.1},{"s":"M","x":3350,"y":-18.0},{"s":"M","x":3375,"y":-16.3},{"s":"M","x":3400,"y":-17.8},{"s":"M","x":3425,"y":-15.9},{"s":"M","x":3450,"y":-17.5},{"s":"M","x":3475,"y":-16.2},{"s":"M","x":3500,"y":-18.1},{"s":"M","x":3525,"y":-16.4},{"s":"M","x":3550,"y":-17.9},{"s":"M","x":3575,"y":-16.0},{"s":"M","x":3600,"y":-17.8},{"s":"M","x":3625,"y":-16.3},{"s":"M","x":3650,"y":-17.7},{"s":"M","x":3675,"y":-15.8},{"s":"M","x":3700,"y":-18.2},{"s":"M","x":3725,"y":-16.2},{"s":"M","x":3750,"y":-17.4},{"s":"M","x":3775,"y":-15.9},{"s":"M","x":3800,"y":-17.9},{"s":"M","x":3825,"y":-16.5},{"s":"M","x":3850,"y":-18.1},{"s":"M","x":3875,"y":-16.0},{"s":"M","x":3900,"y":-17.6},{"s":"M","x":3925,"y":-16.1},{"s":"M","x":3950,"y":-18.0},{"s":"M","x":3975,"y":-16.3},{"s":"M","x":4000,"y":-17.8}
]
},
"resolve":{"scale":{"color":"independent"},"legend":{"color":"independent"}},
"vconcat":[
{
"width":404,"height":358,
"data":{"name":"top"},
"mark":{"type":"line","strokeWidth":1.3,"clip":true},
"encoding":{
"x":{"field":"x","type":"quantitative","scale":{"domain":[0,4000],"nice":false},"axis":{"values":[0,1000,2000,3000,4000],"title":["Number of iterations","(a)"]}},
"y":{"field":"y","type":"quantitative","scale":{"domain":[-15,0],"nice":false},"axis":{"values":[0,-5,-10,-15],"title":"System Mismatch [dB]","titlePadding":16}},
"color":{"field":"s","type":"nominal","sort":null,"scale":{"domain":["N","G","R","C","M"],"range":["#2b2bdd","#2f9a3f","#ff2a2a","#22c2c2","#c42ac4"]},"legend":{"title":"\u00a0","legendX":114.7,"legendY":-5.3,"labelExpr":"datum.label=='N'?'NLMS':datum.label=='G'?'CGRRF (γ\u2004=\u20040.999)':datum.label=='R'?'CGRRF (γ\u2004=\u20040.99)':datum.label=='C'?'Proposed (q\u2004=\u20041)':'Proposed (q\u2004=\u20045)'"}}
}
},
{
"width":404,"height":357,
"data":{"name":"bot"},
"mark":{"type":"line","strokeWidth":1.7,"clip":true},
"encoding":{
"x":{"field":"x","type":"quantitative","scale":{"domain":[0,4000],"nice":false},"axis":{"values":[0,1000,2000,3000,4000],"title":["Number of iterations","(b)"]}},
"y":{"field":"y","type":"quantitative","scale":{"domain":[-20,0],"nice":false},"axis":{"values":[0,-5,-10,-15,-20],"title":"MSE [dB]","titlePadding":13}},
"color":{"field":"s","type":"nominal","sort":null,"scale":{"domain":["N","G","R","C","M"],"range":["#0000ff","#007a00","#ff0000","#00bfbf","#bf00bf"]},"legend":{"title":"\u00a0","legendX":129,"legendY":1,"labelExpr":"datum.label=='N'?'NLMS':datum.label=='G'?'CGRRF (γ\u2004=\u20040.999)':datum.label=='R'?'CGRRF (γ\u2004=\u20040.99)':datum.label=='C'?'Proposed (q\u2004=\u20041)':'Proposed (q\u2004=\u20045)'"}}
}
}
]
}
